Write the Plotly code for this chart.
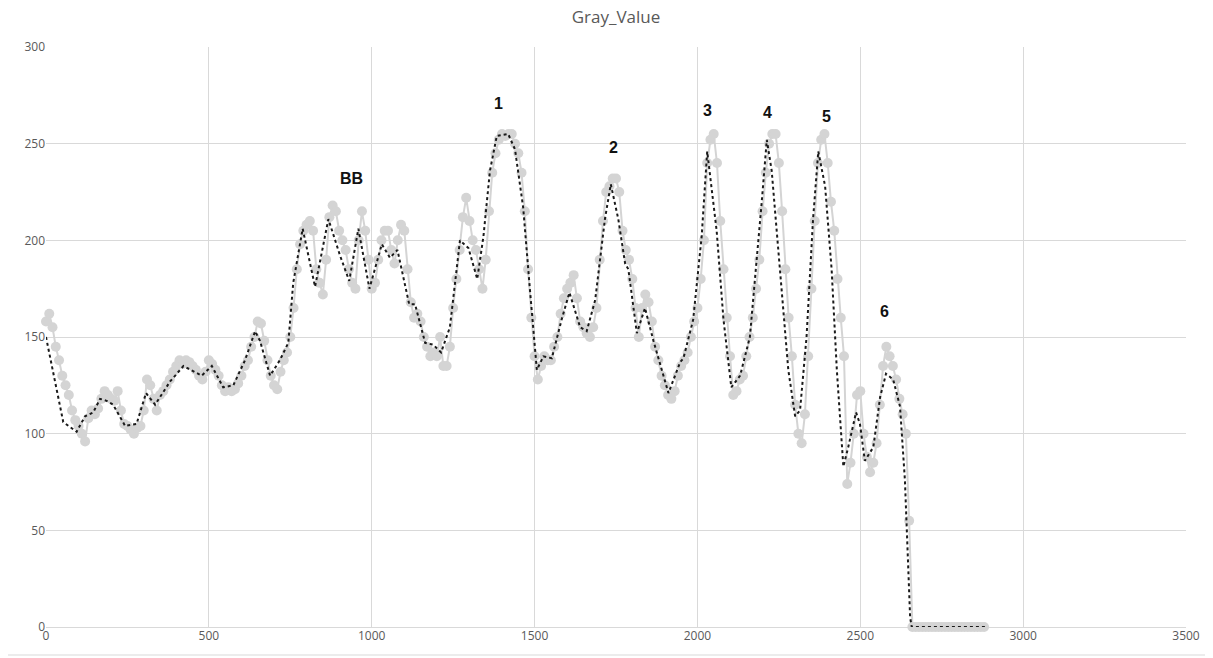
import numpy as np
import plotly.graph_objects as go

# ---- raw gray-value samples (x every 10 units) ----
x_start, x_step = 0, 10
gray_values = [
    158, 162, 155, 145, 138, 130, 125, 120, 112, 107,   # 0-90
    104, 100, 96, 108, 112, 110, 113, 118, 122, 120,     # 100-190
    118, 117, 122, 112, 105, 104, 102, 100, 103, 104,    # 200-290
    112, 128, 125, 118, 112, 120, 122, 125, 128, 132,    # 300-390
    135, 138, 136, 138, 137, 135, 133, 130, 128, 132,    # 400-490
    138, 136, 133, 130, 125, 122, 124, 122, 123, 126,    # 500-590
    130, 135, 138, 145, 150, 158, 157, 148, 138, 130,    # 600-690
    125, 123, 132, 138, 142, 150, 165, 185, 198, 205,    # 700-790
    208, 210, 205, 185, 178, 172, 190, 212, 218, 215,    # 800-890
    205, 200, 195, 185, 178, 175, 200, 215, 205, 190,    # 900-990
    175, 178, 190, 200, 205, 205, 195, 188, 200, 208,    # 1000-1090
    205, 185, 168, 160, 162, 158, 150, 145, 140, 142,    # 1100-1190
    140, 150, 135, 135, 145, 165, 180, 195, 212, 222,    # 1200-1290
    210, 200, 195, 185, 175, 190, 215, 235, 245, 252,    # 1300-1390
    255, 254, 255, 255, 250, 245, 235, 215, 185, 160,    # 1400-1490
    140, 128, 135, 140, 138, 138, 145, 150, 162, 170,    # 1500-1590
    175, 178, 182, 170, 158, 155, 152, 150, 155, 165,    # 1600-1690
    190, 210, 225, 228, 232, 232, 225, 205, 195, 190,    # 1700-1790
    180, 165, 150, 165, 172, 168, 158, 145, 138, 130,    # 1800-1890
    125, 120, 118, 122, 130, 135, 138, 142, 150, 158,    # 1900-1990
    165, 180, 200, 240, 252, 255, 240, 210, 185, 160,    # 2000-2090
    140, 120, 122, 128, 130, 140, 150, 160, 175, 190,    # 2100-2190
    215, 235, 250, 255, 255, 240, 215, 185, 160, 140,    # 2200-2290
    115, 100, 95, 110, 140, 175, 210, 240, 252, 255,     # 2300-2390
    240, 220, 205, 180, 160, 140, 74, 85, 100, 120,      # 2400-2490
    122, 100, 88, 80, 85, 95, 115, 135, 145, 140,        # 2500-2590
    135, 128, 118, 110, 100, 55, 0, 0, 0, 0,             # 2600-2690
    0, 0, 0, 0, 0, 0, 0, 0, 0, 0,                        # 2700-2790
    0, 0, 0, 0, 0, 0, 0, 0, 0,                           # 2800-2880
]
gray_x = [x_start + i * x_step for i in range(len(gray_values))]

# ---- moving-average trendline ----
trend_x = [0, 28, 53, 94, 120, 145, 166, 186, 206, 243, 278, 307, 335, 381,
           422, 478, 509, 544, 575, 611, 642, 657, 688, 718, 744, 759, 788,
           826, 867, 903, 931, 959, 993, 1031, 1056, 1079, 1115, 1133, 1164,
           1189, 1213, 1240, 1271, 1297, 1324, 1343, 1363, 1384, 1419, 1440,
           1465, 1486, 1507, 1527, 1553, 1583, 1607, 1640, 1660, 1686, 1716,
           1734, 1757, 1778, 1788, 1814, 1839, 1865, 1911, 1947, 1957, 1987,
           2013, 2030, 2059, 2080, 2104, 2131, 2161, 2197, 2213, 2228, 2254,
           2279, 2300, 2315, 2335, 2355, 2371, 2392, 2412, 2428, 2448, 2463,
           2487, 2499, 2514, 2540, 2561, 2579, 2601, 2622, 2637, 2644, 2653,
           2658, 2888]
trend_y = [150, 127, 106, 101, 109, 111, 118, 117, 115, 104, 105, 121, 115,
           127, 135, 130, 135, 124, 125, 138, 153, 148, 130, 138, 147, 178,
           206, 176, 211, 192, 179, 206, 175, 198, 191, 195, 167, 167, 147,
           146, 142, 155, 200, 196, 180, 202, 236, 254, 255, 247, 217, 174,
           133, 140, 139, 159, 173, 155, 153, 169, 211, 229, 211, 188, 185,
           152, 165, 148, 121, 137, 139, 159, 202, 246, 205, 159, 124, 130,
           150, 219, 252, 236, 185, 133, 109, 112, 150, 211, 246, 228, 185,
           133, 83, 93, 111, 105, 86, 93, 119, 131, 128, 114, 76, 42, 5,
           0, 0]

# ---- peak labels ----
label_text = ["BB", "1", "2", "3", "4", "5", "6"]
label_x = [939, 1388, 1741, 2032, 2214, 2395, 2573]
label_y = [232, 271, 248, 267, 266, 264, 163]

fig = go.Figure()
fig.add_trace(go.Scatter(
    x=gray_x, y=gray_values, mode="lines+markers",
    line=dict(color="#d4d4d4", width=2),
    marker=dict(color="#d4d4d4", size=10),
    cliponaxis=False, showlegend=False, name="Gray_Value"))
fig.add_trace(go.Scatter(
    x=trend_x, y=trend_y, mode="lines",
    line=dict(color="#1a1a1a", width=2, dash="dot"),
    cliponaxis=False, showlegend=False, name="Trend"))

for t, lx, ly in zip(label_text, label_x, label_y):
    fig.add_annotation(x=lx, y=ly, text="<b>%s</b>" % t, showarrow=False,
                       font=dict(family="Liberation Sans, Arial", size=16, color="#111111"))

# page body has an 8px margin, so the figure starts at (8, 8)
OFF = 8
W, H = 1213 - OFF, 658 - OFF
ml, mt = 46 - OFF, 47 - OFF
pw, ph = 1140, 580
mr, mb = W - ml - pw, H - mt - ph
# outer chart frame: right and bottom edges (the only ones inside the figure)
fx1 = (1208 - OFF - ml) / pw
fy0 = (mt + ph - (655 - OFF)) / ph
fx0 = -ml / pw
fy1 = (mt + ph) / ph
fig.add_shape(type="line", xref="paper", yref="paper", x0=fx1, x1=fx1, y0=fy0, y1=fy1,
              line=dict(color="#d9d9d9", width=1), layer="below")
fig.add_shape(type="line", xref="paper", yref="paper", x0=fx0, x1=fx1, y0=fy0, y1=fy0,
              line=dict(color="#d9d9d9", width=1), layer="below")

tickfont = dict(family="Open Sans, Liberation Sans", size=12, color="#595959")
fig.update_layout(
    width=W, height=H,
    margin=dict(l=ml, r=mr, t=mt, b=mb),
    paper_bgcolor="white", plot_bgcolor="white",
    title=dict(text="Gray_Value", x=0.5, xref="paper", xanchor="center",
               y=1 - 3 / H, yanchor="top",
               font=dict(family="Open Sans, Liberation Sans", size=17, color="#595959")),
    xaxis=dict(range=[0, 3500], tickvals=[0, 500, 1000, 1500, 2000, 2500, 3000, 3500],
               showgrid=True, gridcolor="#d9d9d9", gridwidth=1,
               zeroline=False, showline=False, ticks="", tickfont=tickfont),
    yaxis=dict(range=[0, 300], tickvals=[0, 50, 100, 150, 200, 250, 300],
               showgrid=True, gridcolor="#d9d9d9", gridwidth=1,
               zeroline=True, zerolinecolor="#d9d9d9", zerolinewidth=1,
               showline=False, ticks="", tickfont=tickfont),
)
fig.write_html("out.html")
